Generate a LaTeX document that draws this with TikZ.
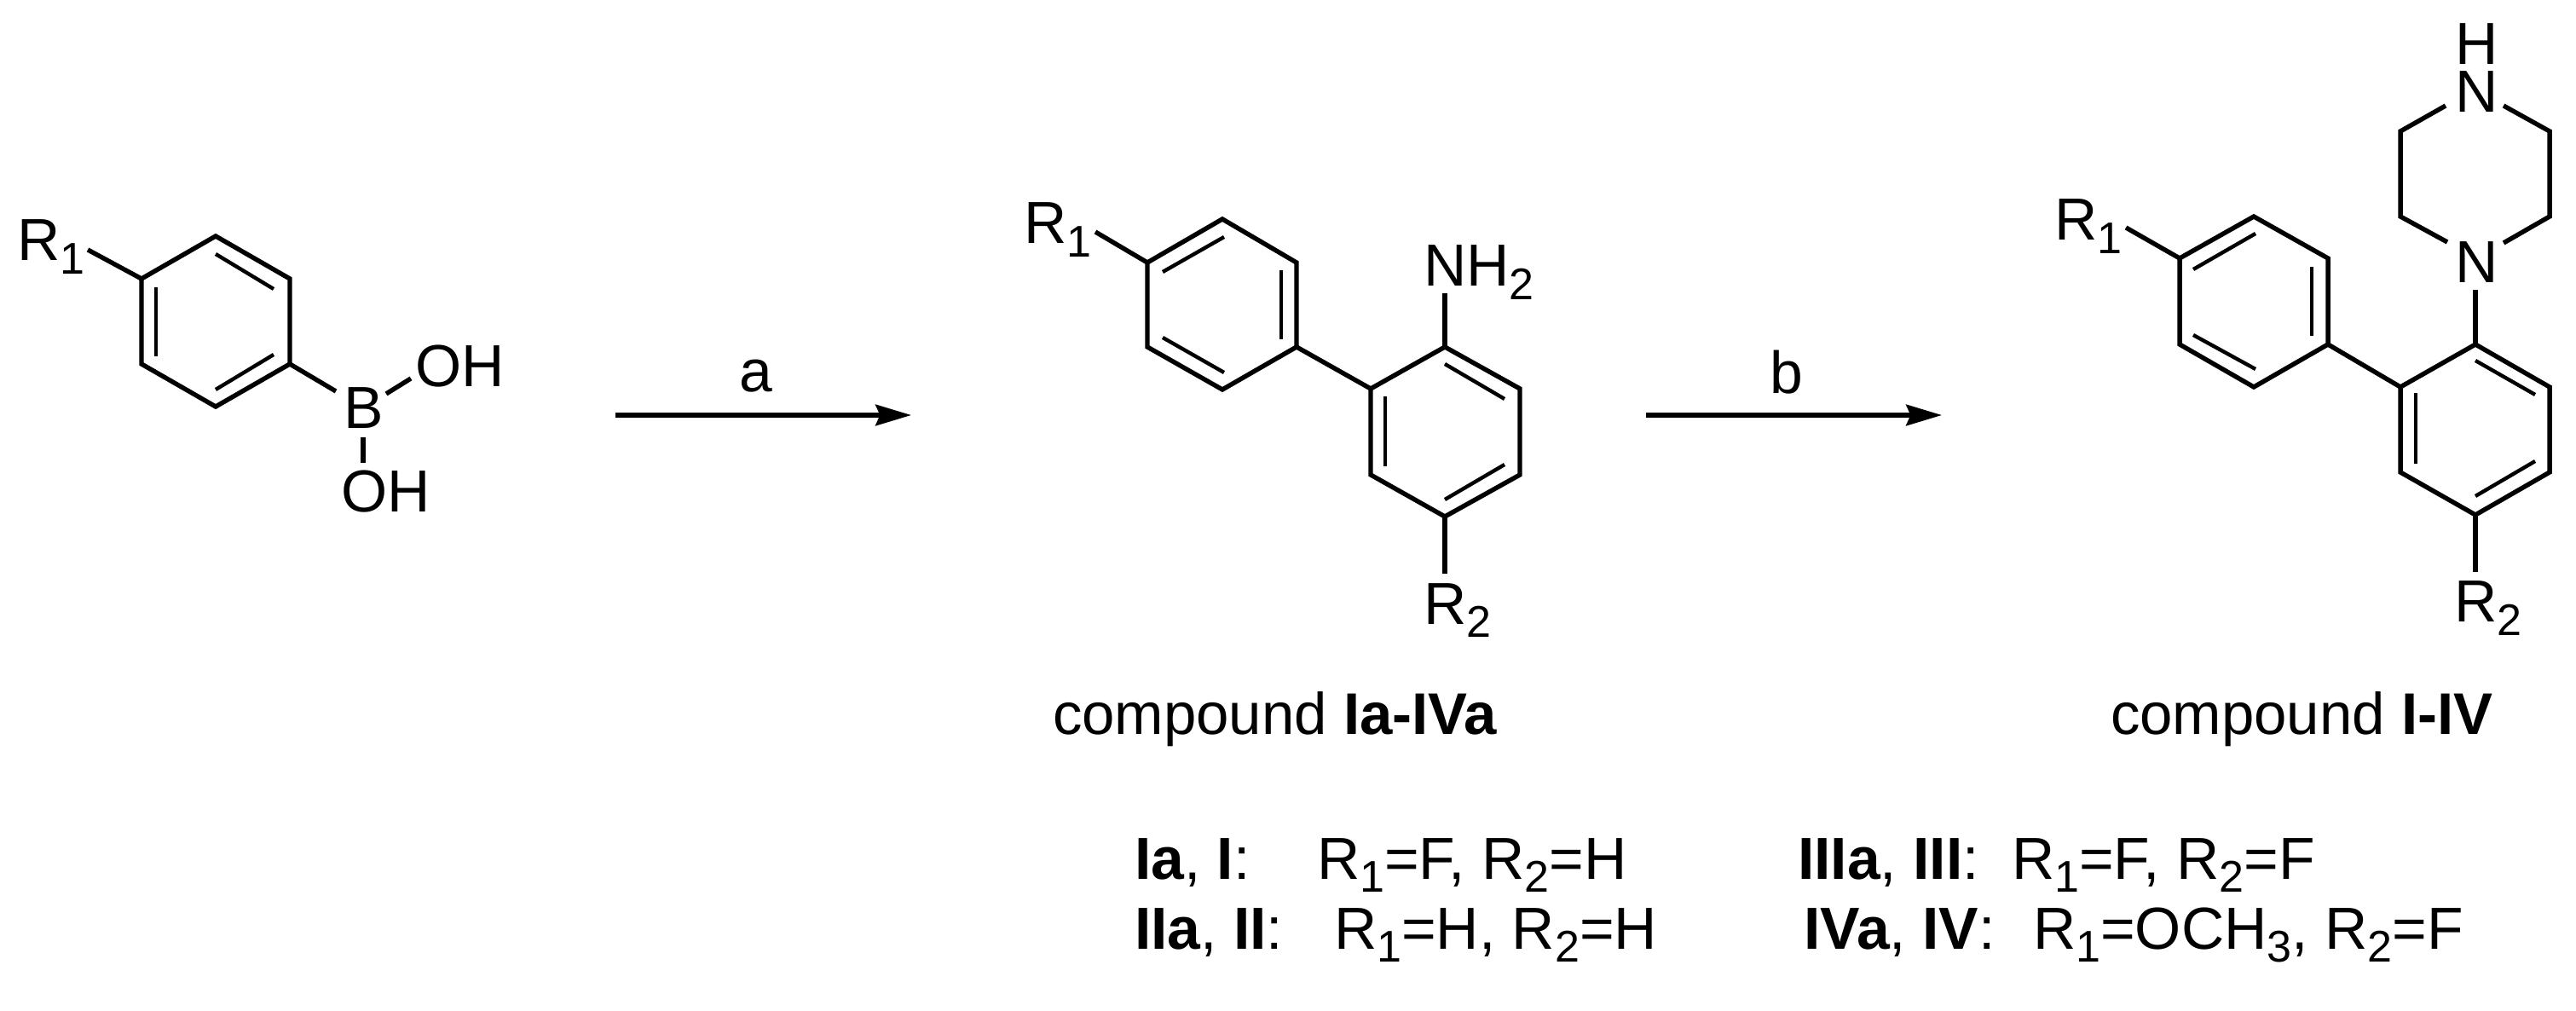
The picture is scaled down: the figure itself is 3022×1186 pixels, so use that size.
\documentclass[tikz,border=0pt]{standalone}
\usepackage{fontspec}
\setmainfont{Liberation Sans}
\usetikzlibrary{arrows.meta}
\newcommand{\sbs}[1]{\raisebox{-4.5pt}{\fontsize{14.8}{15}\selectfont #1}}
\tikzset{
  bond/.style={draw=black,line width=1.54pt,line cap=butt,line join=miter},
  inner/.style={draw=black,line width=1.25pt,line cap=butt},
  lab/.style={anchor=base west,inner sep=0pt,outer sep=0pt,text=black,font=\fontsize{19.8}{21}\selectfont},
  captxt/.style={lab,font=\fontsize{19.6}{21}\selectfont},
  rxn/.style={draw=black,line width=1.5pt,-{Stealth[length=11.9pt,width=7pt,inset=1.5pt]}}
}
\begin{document}
\begin{tikzpicture}[x=0.01cm,y=-0.01cm]
\fill[white] (0,0) rectangle (3022,1186);
\useasboundingbox (0,0) rectangle (3022,1186);
% ---------- boronic acid
\coordinate (a1) at (166,327); \coordinate (a2) at (253,277); \coordinate (a3) at (340,327);
\coordinate (a4) at (340,427); \coordinate (a5) at (253,477); \coordinate (a6) at (166,427);
\draw[bond] (a1)--(a2)--(a3)--(a4)--(a5)--(a6)--cycle;
\coordinate (ai1) at (253,298); \coordinate (ai2) at (321,339);
\coordinate (ai3) at (183,337); \coordinate (ai4) at (183,418);
\coordinate (ai5) at (253,457); \coordinate (ai6) at (321,416);
\draw[inner] (ai1)--(ai2); \draw[inner] (ai3)--(ai4); \draw[inner] (ai5)--(ai6);
\node[lab] (aR) at (20,306) {R\sbs{1}};
\node[lab] (aB) at (403,503) {B};
\node[lab] (aO1) at (487,454) {OH};
\node[lab] (aO2) at (400,601) {OH};
\coordinate (aRe) at (103,293); \coordinate (aB1) at (394,459);
\coordinate (aB2) at (453,462); \coordinate (aO1e) at (482,444);
\coordinate (aB3) at (426,513); \coordinate (aO2e) at (426,543);
\draw[bond] (aRe)--(a1); \draw[bond] (a4)--(aB1);
\draw[bond] (aB2)--(aO1e); \draw[bond] (aB3)--(aO2e);
% ---------- arrows
\coordinate (r1s) at (722,487); \coordinate (r1e) at (1069,487);
\coordinate (r2s) at (1931,487); \coordinate (r2e) at (2278,487);
\draw[rxn] (r1s)--(r1e);
\draw[rxn] (r2s)--(r2e);
\node[lab] (la) at (867,460) {a};
\node[lab] (lb) at (2076,462) {b};
% ---------- compound Ia-IVa
\coordinate (b1) at (1346,308); \coordinate (b2) at (1434,257); \coordinate (b3) at (1521,308);
\coordinate (b4) at (1521,407); \coordinate (b5) at (1434,457); \coordinate (b6) at (1346,407);
\draw[bond] (b1)--(b2)--(b3)--(b4)--(b5)--(b6)--cycle;
\coordinate (bi1) at (1364,319); \coordinate (bi2) at (1436,278);
\coordinate (bi3) at (1503,317); \coordinate (bi4) at (1503,398);
\coordinate (bi5) at (1364,396); \coordinate (bi6) at (1436,437);
\draw[inner] (bi1)--(bi2); \draw[inner] (bi3)--(bi4); \draw[inner] (bi5)--(bi6);
\coordinate (c1) at (1695,407); \coordinate (c2) at (1783,456); \coordinate (c3) at (1783,557);
\coordinate (c4) at (1695,606); \coordinate (c5) at (1608,557); \coordinate (c6) at (1608,456);
\draw[bond] (c1)--(c2)--(c3)--(c4)--(c5)--(c6)--cycle;
\coordinate (ci1) at (1695,427); \coordinate (ci2) at (1765,468);
\coordinate (ci3) at (1625,465); \coordinate (ci4) at (1625,547);
\coordinate (ci5) at (1695,586); \coordinate (ci6) at (1765,545);
\draw[inner] (ci1)--(ci2); \draw[inner] (ci3)--(ci4); \draw[inner] (ci5)--(ci6);
\draw[bond] (b4)--(c6);
\node[lab] (bR) at (1201,286) {R\sbs{1}};
\node[lab] (bN) at (1670,336) {NH\sbs{2}};
\node[lab] (bR2) at (1670,732) {R\sbs{2}};
\coordinate (bRe) at (1285,272); \coordinate (bNe) at (1695,344); \coordinate (bR2e) at (1695,673);
\draw[bond] (bRe)--(b1); \draw[bond] (bNe)--(c1); \draw[bond] (c4)--(bR2e);
% ---------- compound I-IV
\coordinate (d1) at (2557,303); \coordinate (d2) at (2644,254); \coordinate (d3) at (2731,303);
\coordinate (d4) at (2731,404); \coordinate (d5) at (2644,454); \coordinate (d6) at (2557,404);
\draw[bond] (d1)--(d2)--(d3)--(d4)--(d5)--(d6)--cycle;
\coordinate (di1) at (2573,316); \coordinate (di2) at (2646,274);
\coordinate (di3) at (2712,313); \coordinate (di4) at (2712,394);
\coordinate (di5) at (2573,393); \coordinate (di6) at (2646,433);
\draw[inner] (di1)--(di2); \draw[inner] (di3)--(di4); \draw[inner] (di5)--(di6);
\coordinate (e1) at (2904,404); \coordinate (e2) at (2991,454); \coordinate (e3) at (2991,554);
\coordinate (e4) at (2904,604); \coordinate (e5) at (2816,554); \coordinate (e6) at (2816,454);
\draw[bond] (e1)--(e2)--(e3)--(e4)--(e5)--(e6)--cycle;
\coordinate (ei1) at (2904,423); \coordinate (ei2) at (2974,463);
\coordinate (ei3) at (2834,461); \coordinate (ei4) at (2834,544);
\coordinate (ei5) at (2904,582); \coordinate (ei6) at (2974,541);
\draw[inner] (ei1)--(ei2); \draw[inner] (ei3)--(ei4); \draw[inner] (ei5)--(ei6);
\draw[bond] (d4)--(e6);
\node[lab] (dR) at (2410,282) {R\sbs{1}};
\node[lab] (dR2) at (2879,730) {R\sbs{2}};
\node[lab,align=left,anchor=south west] (pN1) at (2880,132) {H\\[-5.07pt]N};
\node[lab] (pN2) at (2880,332) {N};
\coordinate (dRe) at (2494,267); \coordinate (dR2e) at (2904,671); \coordinate (pN2e) at (2904,340);
\draw[bond] (dRe)--(d1); \draw[bond] (e4)--(dR2e); \draw[bond] (pN2e)--(e1);
\coordinate (p1) at (2871,284); \coordinate (p2) at (2816,254); \coordinate (p3) at (2816,154); \coordinate (p4) at (2869,124);
\coordinate (p5) at (2937,124); \coordinate (p6) at (2991,154); \coordinate (p7) at (2991,254); \coordinate (p8) at (2937,285);
\draw[bond] (p1)--(p2)--(p3)--(p4);
\draw[bond] (p5)--(p6)--(p7)--(p8);
% ---------- captions
\node[captxt] (capA) at (1235,861) {compound \textbf{Ia-IVa}};
\node[captxt] (capB) at (2476,861) {compound \textbf{I-IV}};
\node[lab] (k1) at (1331,1031) {\textbf{Ia}, \textbf{I}:};
\node[lab] (v1) at (1545,1031) {R\sbs{1}=F, R\sbs{2}=H};
\node[lab] (k2) at (1331,1113) {\textbf{IIa}, \textbf{II}:};
\node[lab] (v2) at (1565,1113) {R\sbs{1}=H, R\sbs{2}=H};
\node[lab] (k3) at (2109,1031) {\textbf{IIIa}, \textbf{III}:};
\node[lab] (v3) at (2360,1031) {R\sbs{1}=F, R\sbs{2}=F};
\node[lab] (k4) at (2116,1113) {\textbf{IVa}, \textbf{IV}:};
\node[lab] (v4) at (2385,1113) {R\sbs{1}=OCH\sbs{3}, R\sbs{2}=F};
\end{tikzpicture}
\end{document}
